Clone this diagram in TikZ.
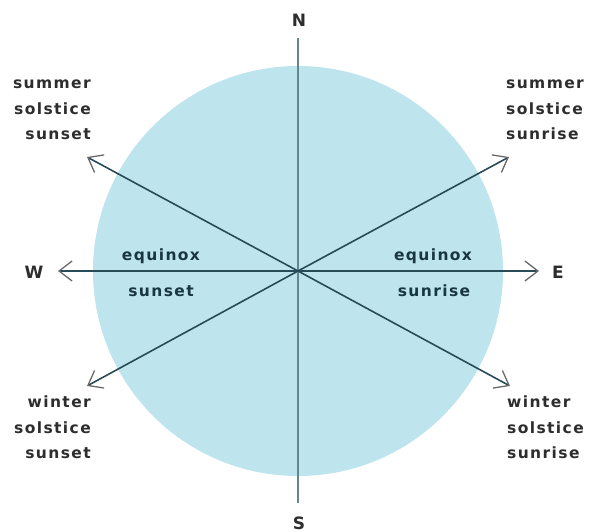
\documentclass[tikz,border=0pt]{standalone}
\usepackage{fontspec}
\setmainfont{DejaVu Sans}
\newfontfamily\lblfont[LetterSpace=9]{DejaVu Sans}
\usetikzlibrary{arrows.meta}
\definecolor{disc}{RGB}{190,228,238}
\definecolor{axis}{RGB}{100,135,142}
\definecolor{ray}{RGB}{40,75,88}
\definecolor{tipc}{RGB}{105,105,105}
\definecolor{txt}{RGB}{45,45,45}
\definecolor{eqtxt}{RGB}{25,55,65}
\begin{document}
\begin{tikzpicture}[x=1pt,y=-1pt,
  lbl/.style={font=\lblfont\bfseries\fontsize{15.5}{25.5}\selectfont, text=txt, inner sep=0pt},
  eq/.style={font=\lblfont\bfseries\fontsize{15.5}{33}\selectfont, text=eqtxt, inner sep=0pt, align=center},
  cmp/.style={font=\bfseries\fontsize{17}{18}\selectfont, text=txt, inner sep=0pt},
  rayarrow/.style={draw=ray, line width=1.6pt, -{Straight Barb[length=13pt,width=20pt,line width=1.3pt,color=tipc]}}
]
\useasboundingbox (0,0) rectangle (592,532);
\coordinate (C) at (298,271);
\fill[disc] (C) circle (205);

% compass letters
\node[cmp] (N) at (299,20) {N};
\node[cmp] (S) at (299,523) {S};
\node[cmp] (W) at (34,272) {W};
\node[cmp] (E) at (558,272) {E};

% vertical axis
\coordinate (Ntop) at (298,38);
\coordinate (Sbot) at (298,503);
\draw[axis, line width=2.6pt] (Ntop) -- (Sbot);

% arrow tips
\coordinate (Wt) at (58,271);
\coordinate (Et) at (539,271);
\coordinate (SSs) at (87,157);
\coordinate (SSr) at (509,157);
\coordinate (WSs) at (87,386);
\coordinate (WSr) at (510,386);

\draw[rayarrow] (C) -- (Wt);
\draw[rayarrow] (C) -- (Et);
\draw[rayarrow] (C) -- (SSs);
\draw[rayarrow] (C) -- (SSr);
\draw[rayarrow] (C) -- (WSs);
\draw[rayarrow] (C) -- (WSr);

% corner labels
\node[lbl, align=right, anchor=north east] (lSSs) at (91,80) {summer\\solstice\\sunset};
\node[lbl, align=left, anchor=north west] (lSSr) at (506,80) {summer\\solstice\\sunrise};
\node[lbl, align=right, anchor=north east] (lWSs) at (91,396) {winter\\solstice\\sunset};
\node[lbl, align=left, anchor=north west] (lWSr) at (507,396) {winter\\solstice\\sunrise};

% equinox labels
\node[eq] (eqW1) at (161,256) {equinox};
\node[eq] (eqW2) at (161,291) {sunset};
\node[eq] (eqE1) at (433,256) {equinox};
\node[eq] (eqE2) at (434,291) {sunrise};
\end{tikzpicture}
\end{document}
